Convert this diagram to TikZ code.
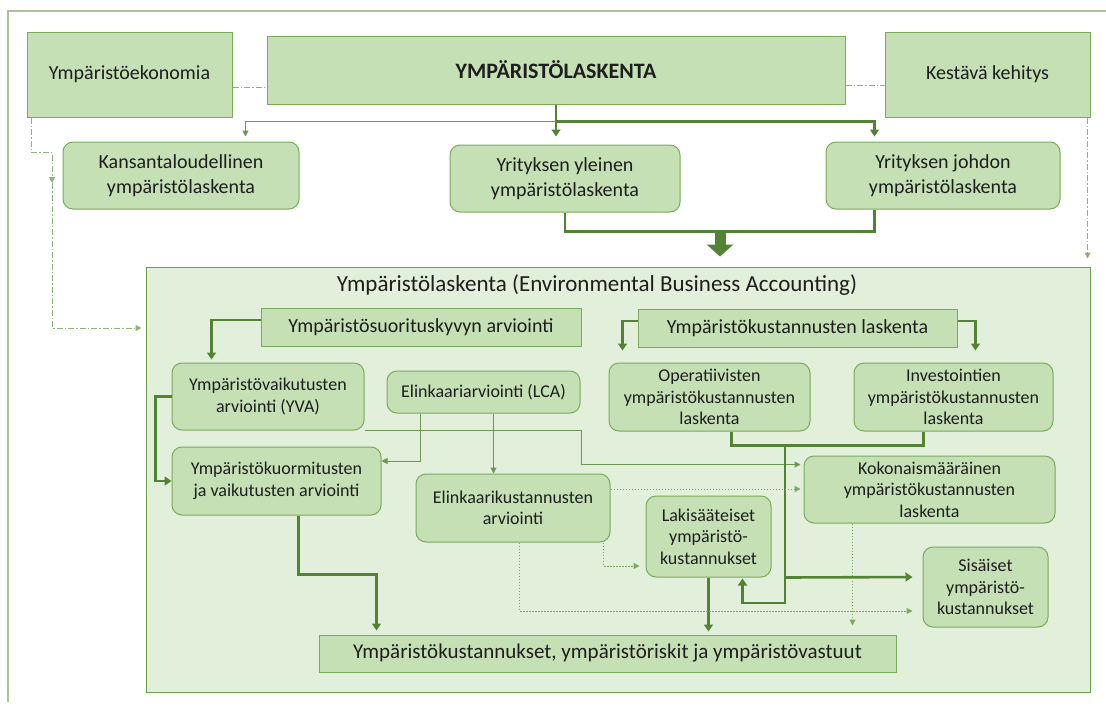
\documentclass[tikz,border=0pt]{standalone}
\usepackage{fontspec}
\setmainfont{Carlito}
\usetikzlibrary{arrows.meta}

\definecolor{boxfill}{HTML}{C5E0B4}
\definecolor{boxline}{HTML}{7AAA5C}
\definecolor{panelfill}{HTML}{E2EFDA}
\definecolor{panelline}{HTML}{6A9F4B}
\definecolor{darkgreen}{HTML}{548235}
\definecolor{framegray}{HTML}{A9C49B}
\definecolor{ddgreen}{HTML}{8DB27A}
\definecolor{txt}{HTML}{1E1E1E}

\tikzset{
  box/.style={rectangle, draw=boxline, fill=boxfill, line width=1pt, inner sep=0pt,
    align=center, text=txt, font=\fontsize{20}{24}\selectfont},
  rbox/.style={box, rounded corners=10pt, font=\fontsize{18}{21.5}\selectfont},
  thkline/.style={draw=darkgreen, line width=2.6pt, -{Triangle[width=9pt,length=7pt]}},
  thnline/.style={draw=darkgreen!85, line width=1pt, -{Triangle[width=6pt,length=6pt]}},
  dotline/.style={draw=boxline, line width=1pt, dash pattern=on 1.5pt off 1.5pt,
    -{Triangle[width=6pt,length=6pt]}},
  ddline/.style={draw=ddgreen, line width=1pt, dash pattern=on 6pt off 2pt on 1.5pt off 2pt},
}

\begin{document}
\begin{tikzpicture}[x=1pt, y=-1pt]

    \useasboundingbox (0,0) rectangle (1106,707);

    % outer frame
    \draw[framegray, line width=1.2pt] (8,702) |- (1106,11);

    % top row
    \node[box, minimum width=205pt, minimum height=85pt] (eko) at (129.5,74.5) {Ympäristöekonomia};
    \node[box, minimum width=578pt, minimum height=68pt, font=\fontsize{22}{26}\selectfont\bfseries] (ymp) at (556,70) {YMPÄRISTÖLASKENTA};
    \node[box, minimum width=205pt, minimum height=85pt] (kest) at (987.5,74.5) {Kestävä kehitys};

    % second row
    \node[rbox, minimum width=236pt, minimum height=67pt, font=\fontsize{20}{25}\selectfont] (kans) at (181,175.5) {Kansantaloudellinen\\ympäristölaskenta};
    \node[rbox, minimum width=230pt, minimum height=67pt, font=\fontsize{20}{25}\selectfont] (yyl) at (565,178.5) {Yrityksen yleinen\\ympäristölaskenta};
    \node[rbox, minimum width=234pt, minimum height=67pt, font=\fontsize{20}{25}\selectfont] (yjo) at (943,175.5) {Yrityksen johdon\\ympäristölaskenta};

    % panel
    \node[rectangle, draw=panelline, fill=panelfill, line width=1pt, minimum width=944pt, minimum height=425pt] (panel) at (618,479.5) {};
    \node[text=txt, font=\fontsize{23}{27}\selectfont] (ptitle) at (597,285) {Ympäristölaskenta (Environmental Business Accounting)};

    \node[box, minimum width=320pt, minimum height=38pt] (suo) at (421,327) {Ympäristösuorituskyvyn arviointi};
    \node[box, minimum width=319pt, minimum height=38pt] (kus) at (797.5,328) {Ympäristökustannusten laskenta};

    \node[rbox, minimum width=192pt, minimum height=67pt] (yva) at (268,396.5) {Ympäristövaikutusten\\arviointi (YVA)};
    \node[rbox, minimum width=193pt, minimum height=42pt] (lca) at (483.5,392) {Elinkaariarviointi (LCA)};
    \node[rbox, minimum width=201pt, minimum height=68pt] (ope) at (709.5,397) {Operatiivisten\\ympäristökustannusten\\laskenta};
    \node[rbox, minimum width=199pt, minimum height=68pt] (inv) at (953.5,397) {Investointien\\ympäristökustannusten\\laskenta};

    \node[rbox, minimum width=209pt, minimum height=68pt] (kuo) at (276.5,481) {Ympäristökuormitusten\\ja vaikutusten arviointi};
    \node[rbox, minimum width=194pt, minimum height=68pt] (elk) at (513,508) {Elinkaarikustannusten\\arviointi};
    \node[rbox, minimum width=251pt, minimum height=67pt] (kok) at (929.5,489.5) {Kokonaismääräinen\\ympäristökustannusten\\laskenta};
    \node[rbox, minimum width=125pt, minimum height=81pt] (lak) at (708.5,536.5) {Lakisääteiset\\ympäristö-\\kustannukset};
    \node[rbox, minimum width=125pt, minimum height=80pt] (sis) at (985.5,587) {Sisäiset\\ympäristö-\\kustannukset};

    \node[box, minimum width=577pt, minimum height=37pt, font=\fontsize{21}{25}\selectfont] (bot) at (607.5,653.5) {Ympäristökustannukset, ympäristöriskit ja ympäristövastuut};

    % dash-dot links
    \coordinate (ek) at ([yshift=-13pt]eko.east);
    \draw[ddline] (ek) -- (ek -| ymp.west);
    \coordinate (ky) at ([yshift=-15pt]ymp.east);
    \draw[ddline] (ky) -- (ky -| kest.west);
    \coordinate (edarr) at (52,183);
    \draw[ddline, -{Triangle[width=6pt,length=6pt]}] ([xshift=5pt]eko.south west) -- ++(0,35) -| (edarr);
    \draw[ddline, -{Triangle[width=6pt,length=6pt]}, shorten >=4pt] (edarr) |- ([yshift=151.5pt]panel.west);
    \coordinate (kd) at ([xshift=-3pt]kest.south east);
    \draw[ddline, -{Triangle[width=6pt,length=6pt]}, shorten >=8pt] (kd) -- (kd |- panel.north);

    % from the main box
    \coordinate (yb) at ([yshift=-17pt]ymp.south);
    \draw[thkline, -] (ymp.south) -- (yb);
    \draw[thkline, shorten >=8pt] (yb) -- (yb |- yyl.north);
    \draw[thkline, shorten >=5pt] (yb) -| ([xshift=49pt]yjo.north west);
    \draw[thnline, shorten >=5pt] (yb) -| ([xshift=183pt]kans.north west);

    % into the panel
    \draw[thkline, -] (yyl.south) -- ++(0,19) -| ([xshift=49pt]yjo.south west);
    \coordinate (fork) at (720,230);
    \draw[draw=darkgreen, line width=11pt, -{Triangle[width=26pt,length=12pt]}, shorten >=10pt] (fork) -- (fork |- panel.north);

    % left column
    \draw[thkline, shorten >=3pt] ([yshift=7pt]suo.west) -| ([xshift=40pt]yva.north west);
    \draw[thkline] (yva.west) -- ++(-16,0) |- (kuo.west);
    \draw[thnline] ([xshift=34pt]lca.south west) |- ([yshift=20pt]kuo.east);
    \coordinate (lc) at ([xshift=10pt]lca.south);
    \draw[thnline] (lc) -- (lc |- elk.north);
    \draw[thnline, shorten >=3pt] (yva.south east) -- (yva.south east -| suo.east) |- ([yshift=25pt]kok.west);
    \draw[thkline, shorten >=4pt] ([xshift=22pt]kuo.south) -- ++(0,59) -| ([xshift=58pt]bot.north west);

    % cost side
    \draw[thkline, shorten >=12pt] ([yshift=7pt]kus.west) -| ([xshift=14pt]ope.north west);
    \draw[thkline, shorten >=12pt] ([yshift=7pt]kus.east) -| ([xshift=122pt]inv.north west);
    \draw[thkline, -] ([xshift=22pt]ope.south) -- ++(0,14) -| ([xshift=-30pt]inv.south);
    \coordinate (hub) at (785,445);
    \draw[thkline, shorten >=1pt] (hub) -- ++(0,158) -| ([xshift=-29pt]lak.south east);
    \draw[thkline, shorten >=10pt] (hub |- lak.south) -- ([yshift=10pt]sis.west);
    \draw[thkline, shorten >=3pt] (lak.south) -- (lak.south |- bot.north);

    % dotted links
    \coordinate (ed) at ([yshift=19pt]elk.east);
    \draw[dotline, shorten >=3pt] (ed) -- (ed -| kok.west);
    \draw[dotline, shorten >=6pt] ([xshift=-7pt]elk.south east) |- ([yshift=-29.5pt]lak.west);
    \draw[dotline, shorten >=10pt] ([xshift=104pt]elk.south west) |- ([yshift=-24pt]sis.west);
    \coordinate (kb) at ([xshift=49pt]kok.south west);
    \draw[dotline, shorten >=9pt] (kb) -- (kb |- bot.north);

\end{tikzpicture}
\end{document}
